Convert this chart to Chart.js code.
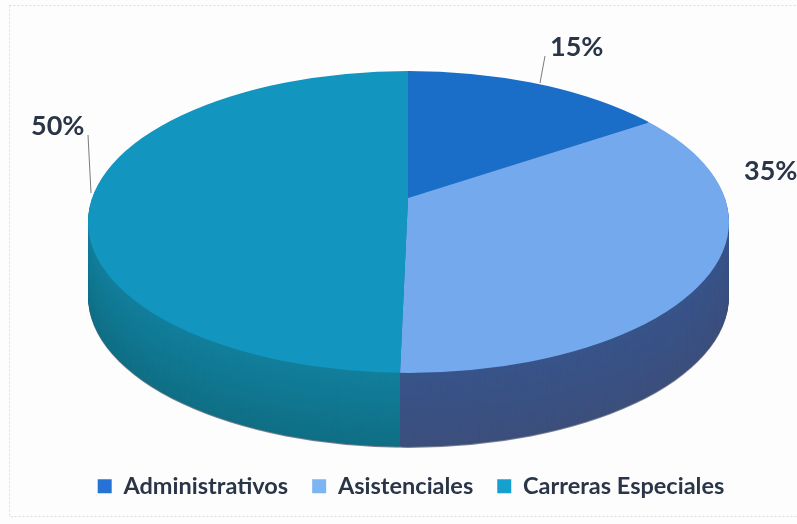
<!DOCTYPE html>
<html><head><meta charset="utf-8">
<style>html,body{margin:0;padding:0;background:#fdfdfe}#w{width:797px;height:524px;position:relative;overflow:hidden}canvas{display:block}</style>
<script src="https://cdn.jsdelivr.net/npm/chart.js@4/dist/chart.umd.min.js"></script>
</head><body><div id="w"><canvas id="c" width="797" height="524"></canvas></div>
<script>
const categories = ['Administrativos','Asistenciales','Carreras Especiales'];
const values = [15,35,50];
const topColors = ['#1a6ec8','#74a9ee','#1295bf'];
const legendColors = ['#2573d6','#7db4f2','#16a0d0'];
const sideStart = ['#14508f','#38548a','#127f9c'];
const sideEnd = ['#14508f','#3c4f7c','#106f85'];

const FONT = 'Lato, "Open Sans", sans-serif';
const CX=408.5, CY=222, RX=320.5, RY=151, VX=408, VY=198, SQUASH=0.432, DEPTH=74, SKEW=-8/175, FAN=440;

function hex(c){return [1,3,5].map(i=>parseInt(c.substr(i,2),16));}
function mix(a,b,t){const x=hex(a),y=hex(b);return 'rgb('+x.map((v,i)=>Math.round(v+(y[i]-v)*t)).join(',')+')';}

function drawLayer(ctx,arcs,dy,colorOf){
  [false,true].forEach(lower=>{
    ctx.save();
    ctx.beginPath();ctx.ellipse(CX,CY+dy,RX,RY,0,0,Math.PI*2);ctx.clip();
    ctx.beginPath();
    if(lower)ctx.rect(0,VY+dy,797,524);else ctx.rect(0,0,797,VY+dy+0.5);
    ctx.clip();
    const a0=arcs[0], s=FAN/a0.outerRadius;
    ctx.translate(VX,VY+dy);
    if(lower)ctx.transform(1,0,SKEW,1,0,0);
    ctx.scale(s,s*SQUASH);
    ctx.translate(-a0.x,-a0.y);
    arcs.forEach((arc,i)=>{
      const o=arc.options;
      arc.options=Object.assign({},o,{backgroundColor:colorOf(i),borderWidth:0});
      arc.draw(ctx);
      arc.options=o;
    });
    ctx.restore();
  });
}

const pie3d={
  id:'pie3d',
  beforeDraw(chart){
    const c=chart.ctx;
    c.save();
    c.fillStyle='#fdfdfe';c.fillRect(0,0,797,524);
    c.strokeStyle='#dcdce0';c.lineWidth=1;c.setLineDash([2,2]);
    c.strokeRect(9.5,5.5,800,511);
    c.restore();
  },
  beforeDatasetsDraw(chart){
    const ctx=chart.ctx, arcs=chart.getDatasetMeta(0).data;
    ctx.save();
    ctx.filter='blur(1px)';
    drawLayer(ctx,arcs,DEPTH+1,()=> '#7c8290');
    ctx.filter='none';
    for(let dy=DEPTH;dy>=1;dy--){
      const t=dy/DEPTH;
      drawLayer(ctx,arcs,dy,i=>mix(sideStart[i],sideEnd[i],t));
    }
    drawLayer(ctx,arcs,0,i=>topColors[i]);
    ctx.strokeStyle='#7a7a80';ctx.lineWidth=1;
    ctx.beginPath();ctx.moveTo(540,83);ctx.lineTo(545,56);ctx.moveTo(88,135);ctx.lineTo(91,193);ctx.stroke();
    ctx.fillStyle='#2a3548';ctx.font='bold 27px '+FONT;ctx.textBaseline='alphabetic';ctx.textAlign='left';
    ctx.fillText(values[0]+'%',550,56);
    ctx.fillText(values[1]+'%',744,180);
    ctx.fillText(values[2]+'%',31,135);
    ctx.restore();
    return false;
  }
};

new Chart(document.getElementById('c'),{
  type:'pie',
  data:{labels:categories,datasets:[{data:values,backgroundColor:legendColors,borderWidth:0}]},
  options:{
    responsive:false,animation:false,
    layout:{padding:{left:25,right:0,top:0,bottom:16}},
    plugins:{
      tooltip:{enabled:false},
      legend:{position:'bottom',labels:{boxWidth:14,boxHeight:14,padding:24,color:'#2a3548',font:{family:FONT,size:23.5,weight:'bold'}}}
    }
  },
  plugins:[pie3d]
});
</script></body></html>
